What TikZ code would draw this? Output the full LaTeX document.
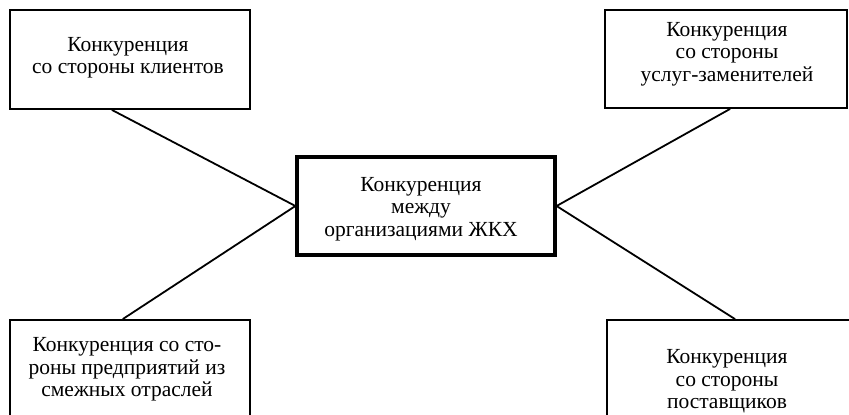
\documentclass[tikz,border=0pt]{standalone}
\usepackage{fontspec}
\setmainfont{Liberation Serif}
\usetikzlibrary{calc}
\tikzset{
  box/.style={draw, line width=1.8pt, inner sep=0pt},
  mainbox/.style={draw, line width=3.2pt, inner sep=0pt},
  lbl/.style={align=center, font=\fontsize{21.5}{22.5}\selectfont, inner sep=0pt},
  link/.style={line width=1.8pt}
}
\begin{document}
\begin{tikzpicture}[x=1pt,y=1pt]
  \useasboundingbox (0,0) rectangle (849,-415);
  % boxes
  \node[box, minimum width=240pt, minimum height=99pt] (cl) at (130,-59.5) {};
  \node[box, minimum width=242pt, minimum height=98pt] (sub) at (726,-59) {};
  \node[mainbox, minimum width=258pt, minimum height=98pt] (mid) at (426,-206) {};
  \node[box, minimum width=240pt, minimum height=110pt] (adj) at (130,-375) {};
  \node[box, minimum width=263pt, minimum height=110pt] (sup) at (738.5,-375) {};
  % texts
  \node[lbl] (tcl) at (128,-57.5) {Конкуренция\\со стороны клиентов};
  \node[lbl] (tsub) at (727,-54) {Конкуренция\\со стороны\\услуг-заменителей};
  \node[lbl] (tmid) at (421,-209) {Конкуренция\\между\\организациями ЖКХ};
  \node[lbl] (tadj) at (127,-369.5) {Конкуренция со сто-\\роны предприятий из\\смежных отраслей};
  \node[lbl] (tsup) at (727,-381.5) {Конкуренция\\со стороны\\поставщиков};
  % connectors
  \draw[link] ($(cl.south west)!0.425!(cl.south east)$) -- (mid.west);
  \draw[link] ($(sub.south west)!0.517!(sub.south east)$) -- (mid.east);
  \draw[link] ($(adj.north west)!0.47!(adj.north east)$) -- (mid.west);
  \draw[link] ($(sup.north west)!0.487!(sup.north east)$) -- (mid.east);
\end{tikzpicture}
\end{document}
